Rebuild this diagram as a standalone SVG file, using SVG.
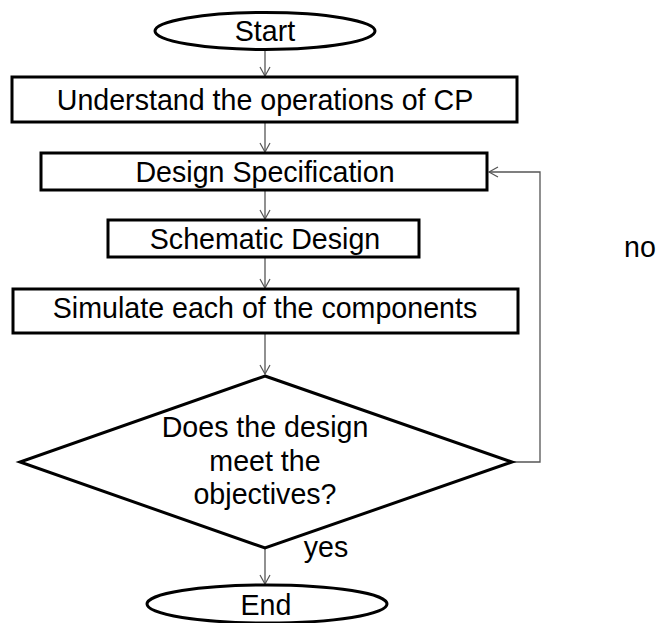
<svg xmlns="http://www.w3.org/2000/svg" width="659" height="623" viewBox="0 0 659 623">
<defs>
<marker id="arr" markerWidth="12" markerHeight="12" refX="10" refY="6" orient="auto" markerUnits="userSpaceOnUse">
<path d="M1,1 L10,6 L1,11" fill="none" stroke="#555" stroke-width="1.2"/>
</marker>
<style>
.shape{fill:#fff;stroke:#000;stroke-width:3}
.t{font-family:"Liberation Sans",Arial,sans-serif;font-size:28.6px;fill:#000;text-anchor:middle}
.c{fill:none;stroke:#555;stroke-width:1.3;marker-end:url(#arr)}
</style>
</defs>
<rect width="659" height="623" fill="#fff"/>
<g id="connectors">
<line class="c" x1="265" y1="50" x2="265" y2="76"/>
<line class="c" x1="265" y1="122" x2="265" y2="152"/>
<line class="c" x1="265" y1="190" x2="265" y2="219"/>
<line class="c" x1="265" y1="257" x2="265" y2="288"/>
<line class="c" x1="265" y1="333" x2="265" y2="374"/>
<line class="c" x1="265" y1="548" x2="265" y2="584"/>
<polyline class="c" points="512,462 540,462 540,172 489,172"/>
</g>
<g id="start">
<ellipse class="shape" cx="265" cy="31" rx="110" ry="18.5"/>
<text class="t" x="265" y="40.5">Start</text>
</g>
<g id="understand">
<rect class="shape" x="12" y="77" width="505" height="45"/>
<text class="t" x="265" y="110">Understand the operations of CP</text>
</g>
<g id="spec">
<rect class="shape" x="41" y="153" width="446" height="37"/>
<text class="t" x="265" y="182">Design Specification</text>
</g>
<g id="schematic">
<rect class="shape" x="108" y="220" width="311" height="37"/>
<text class="t" x="265" y="249">Schematic Design</text>
</g>
<g id="simulate">
<rect class="shape" x="13" y="289" width="505" height="44"/>
<text class="t" x="265" y="318">Simulate each of the components</text>
</g>
<g id="decision">
<polygon class="shape" points="265,376 512,462 265,548 20,462"/>
<text class="t" x="265" y="437">Does the design</text>
<text class="t" x="265" y="471">meet the</text>
<text class="t" x="265" y="504">objectives?</text>
</g>
<g id="end">
<ellipse class="shape" cx="267" cy="604" rx="120" ry="19"/>
<text class="t" x="266" y="615">End</text>
</g>
<g id="labels">
<text class="t" x="326" y="557">yes</text>
<text class="t" x="640" y="257">no</text>
</g>
</svg>
